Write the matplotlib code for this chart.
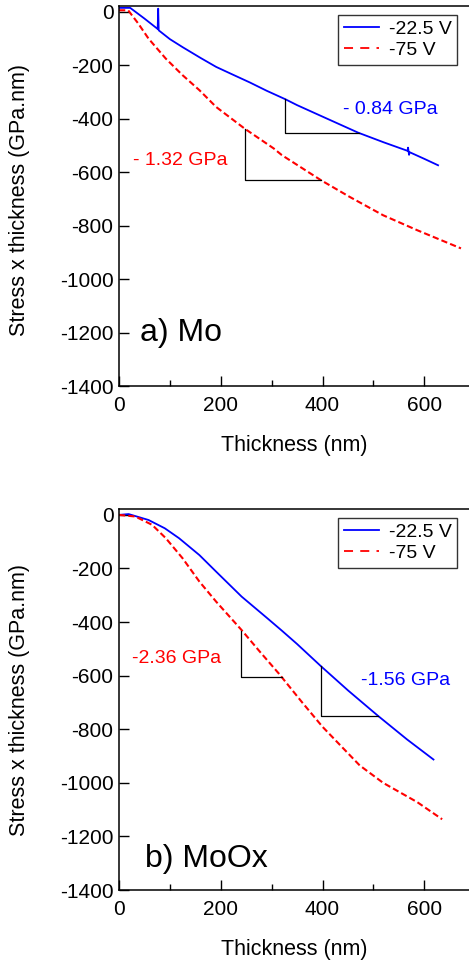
import matplotlib
import matplotlib.pyplot as plt
from matplotlib.lines import Line2D
from matplotlib.ticker import MultipleLocator

matplotlib.use("Agg")
plt.rcParams["font.family"] = ["Liberation Sans", "DejaVu Sans"]
plt.rcParams["axes.unicode_minus"] = False

# a) Mo : stress x thickness vs thickness
mo_x_225 = [0, 22, 50, 76, 77, 78, 100, 125, 160, 191, 225, 257, 290, 327, 350, 400, 470,
            520, 567, 568, 570, 571, 600, 627]
mo_y_225 = [15, 15, -25, -64, 12, -69, -102, -132, -172, -206, -236, -264, -295, -327, -349,
            -392, -452, -488, -520, -508, -535, -525, -550, -574]
mo_x_75 = [0, 18, 38, 58, 92, 125, 158, 191, 247, 304, 320, 397, 453, 519, 586, 672]
mo_y_75 = [6, 6, -44, -100, -175, -237, -293, -356, -437, -511, -536, -630, -692, -761, -817,
           -885]

# b) MoOx
moox_x_225 = [0, 19, 58, 90, 118, 158, 191, 241, 291, 320, 350, 397, 450, 509, 566, 618]
moox_y_225 = [0, 3, -19, -50, -87, -150, -212, -305, -385, -432, -482, -565, -655, -750, -838,
              -913]
moox_x_75 = [0, 32, 65, 92, 125, 158, 191, 241, 277, 314, 360, 400, 440, 473, 519, 586, 635]
moox_y_75 = [0, -6, -37, -87, -162, -249, -324, -430, -511, -592, -700, -791, -870, -935,
             -1000, -1072, -1136]

# slope triangles: (x_start, y_top, x_end, y_bottom)
mo_tri_225 = (327, -327, 472, -452)
mo_tri_75 = (247, -437, 397, -630)
moox_tri_225 = (397, -565, 509, -750)
moox_tri_75 = (239, -434, 320, -604)

legend_labels = ["-22.5 V", "-75 V"]
BLUE = "#0000ff"
RED = "#ff0000"

W, H = 469, 965
fig = plt.figure(figsize=(W / 100, H / 100), dpi=100)


def make_axes(top_px, bottom_px):
    left = 119 / W
    ax = fig.add_axes([left, 1 - bottom_px / H, 1 - left + 0.01, (bottom_px - top_px) / H])
    ax.set_xlim(0, 697)
    ax.set_ylim(-1400, 22)
    ax.spines["right"].set_visible(False)
    for s in ax.spines.values():
        s.set_linewidth(1.1)
    ax.xaxis.set_major_locator(MultipleLocator(200))
    ax.xaxis.set_minor_locator(MultipleLocator(100))
    ax.yaxis.set_major_locator(MultipleLocator(200))
    ax.tick_params(which="both", direction="in", top=False, right=False, labelsize=15,
                   width=1.0)
    ax.tick_params(axis="x", which="major", length=7, pad=7)
    ax.tick_params(axis="x", which="minor", length=4)
    ax.tick_params(axis="y", which="major", length=7, pad=4)
    ax.set_xticks([0, 200, 400, 600])
    return ax


def triangle(ax, tri):
    x0, y0, x1, y1 = tri
    ax.plot([x0, x0, x1], [y0, y1, y1], color="black", lw=0.9)


def legend(ax):
    handles = [Line2D([], [], color=BLUE, lw=1.3),
               Line2D([], [], color=RED, lw=1.3, dashes=(5, 4))]
    leg = ax.legend(handles, legend_labels, loc="upper right",
                    bbox_to_anchor=((453 - 119) / 350, 0.977), fontsize=14,
                    frameon=True, fancybox=False, edgecolor="black", handlelength=1.8,
                    handletextpad=0.5, borderpad=0.3, labelspacing=0.15,
                    borderaxespad=0)
    leg.get_frame().set_linewidth(1.0)


# top panel
ax1 = make_axes(6, 386)
ax1.plot(mo_x_225, mo_y_225, color=BLUE, lw=1.3)
ax1.plot(mo_x_75, mo_y_75, color=RED, lw=1.5, dashes=(3, 1.5))
triangle(ax1, mo_tri_225)
triangle(ax1, mo_tri_75)
ax1.text(440, -364, "- 0.84 GPa", color=BLUE, fontsize=14, va="center")
ax1.text(28, -555, "- 1.32 GPa", color=RED, fontsize=14, va="center")
ax1.text(42, -1202, "a) Mo", fontsize=23, va="center")
legend(ax1)

# bottom panel
ax2 = make_axes(509, 890)
ax2.plot(moox_x_225, moox_y_225, color=BLUE, lw=1.3)
ax2.plot(moox_x_75, moox_y_75, color=RED, lw=1.5, dashes=(3, 1.5))
triangle(ax2, moox_tri_225)
triangle(ax2, moox_tri_75)
ax2.text(476, -617, "-1.56 GPa", color=BLUE, fontsize=14, va="center")
ax2.text(26, -535, "-2.36 GPa", color=RED, fontsize=14, va="center")
ax2.text(52, -1283, "b) MoOx", fontsize=23, va="center")
legend(ax2)

# axis titles
for yc, xl in [(200, 446), (700, 949)]:
    fig.text(20 / W, 1 - yc / H, "Stress x thickness (GPa.nm)", rotation=90,
             ha="center", va="center", fontsize=15.5)
    fig.text(294 / W, 1 - xl / H, "Thickness (nm)", ha="center", va="center", fontsize=15.5)

fig.savefig("out.png", dpi=100)
